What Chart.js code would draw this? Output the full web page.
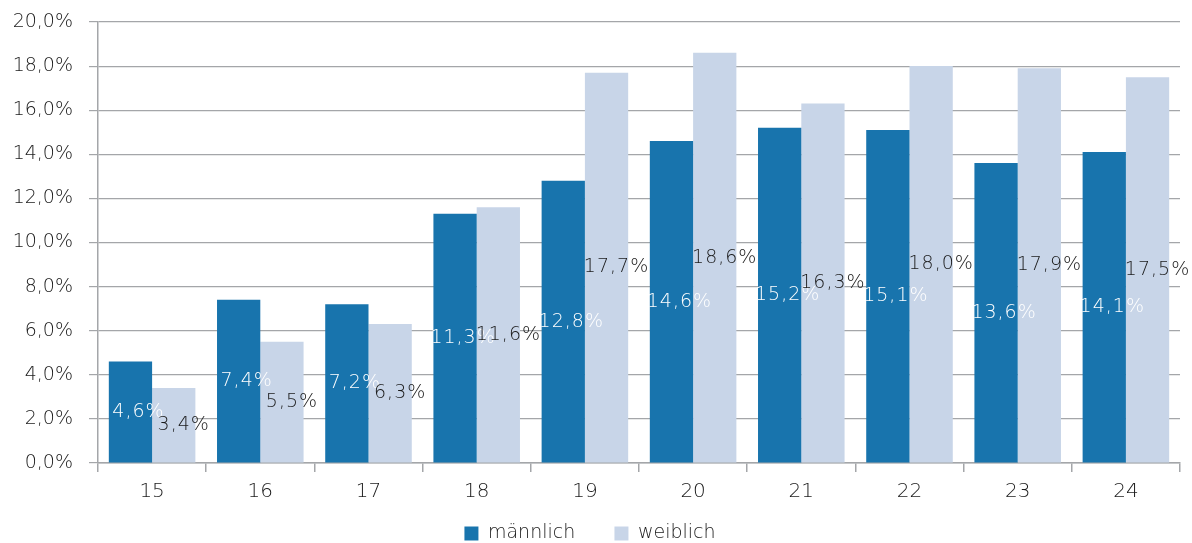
<!DOCTYPE html>
<html>
<head>
<meta charset="utf-8">
<script src="https://cdn.jsdelivr.net/npm/chart.js@4"></script>
<style>
  html, body { margin: 0; padding: 0; background: #fff; }
  #wrap { width: 1192px; height: 543px; }
</style>
</head>
<body>
<div id="wrap"><canvas id="chart" width="1192" height="543"></canvas></div>
<script>
// Ages on the x axis
const ages = ["15", "16", "17", "18", "19", "20", "21", "22", "23", "24"];
// Shares in percent
const maennlich = [4.6, 7.4, 7.2, 11.3, 12.8, 14.6, 15.2, 15.1, 13.6, 14.1];
const weiblich = [3.4, 5.5, 6.3, 11.6, 17.7, 18.6, 16.3, 18.0, 17.9, 17.5];
const seriesNames = ["männlich", "weiblich"];

const gridColor = "#a4a6a9";
const fontFamily = "'DejaVu Sans', sans-serif";

function pct(v) {
  return v.toFixed(1).replace(".", ",") + "%";
}

// Draw value labels in the middle of each bar
const barLabels = {
  id: "barLabels",
  afterDatasetsDraw(chart) {
    const ctx = chart.ctx;
    ctx.save();
    ctx.font = "200 19px " + fontFamily;
    ctx.letterSpacing = "1px";
    ctx.textAlign = "center";
    ctx.textBaseline = "middle";
    chart.data.datasets.forEach((ds, di) => {
      const meta = chart.getDatasetMeta(di);
      ctx.fillStyle = di === 0 ? "#ffffff" : "#1a1a1a";
      meta.data.forEach((bar, i) => {
        const p = bar.getProps(["x", "y", "base"], true);
        ctx.fillText(pct(ds.data[i]), p.x + (di === 0 ? 8 : 10), (p.y + p.base) / 2);
      });
    });
    ctx.restore();
  }
};

new Chart(document.getElementById("chart"), {
  type: "bar",
  data: {
    labels: ages,
    datasets: [
      { label: seriesNames[0], data: maennlich, backgroundColor: "#1874ad" },
      { label: seriesNames[1], data: weiblich, backgroundColor: "#c8d5e8" }
    ]
  },
  options: {
    responsive: false,
    animation: false,
    layout: { padding: { top: 22, right: 12, left: 0, bottom: -10 } },
    datasets: { bar: { categoryPercentage: 0.8, barPercentage: 1 } },
    scales: {
      x: {
        grid: { drawOnChartArea: false, drawTicks: true, tickLength: 9, color: gridColor, lineWidth: 1.5 },
        border: { color: gridColor, width: 1.5 },
        ticks: { color: "#1a1a1a", font: { family: fontFamily, size: 20, weight: 200 }, padding: 8 },
        afterFit: s => { s.height = 58; }
      },
      y: {
        min: 0,
        max: 20,
        ticks: {
          stepSize: 2,
          color: "#1a1a1a",
          padding: 16,
          font: { family: fontFamily, size: 19, weight: 200 },
          callback: v => pct(v)
        },
        grid: { color: gridColor, lineWidth: 1.2, tickLength: 9 },
        border: { color: gridColor, width: 1.5 },
        afterFit: s => { s.width = 98; s.paddingTop = 0; s.paddingBottom = 0; }
      }
    },
    plugins: {
      legend: {
        position: "bottom",
        labels: {
          boxWidth: 14,
          boxHeight: 14,
          padding: 3,
          color: "#1a1a1a",
          font: { family: fontFamily, size: 19, weight: 200, lineHeight: 1 },
          // extra gap between the two legend entries
          generateLabels: chart => {
            const items = Chart.defaults.plugins.legend.labels.generateLabels(chart);
            items[0].text += "\u00a0\u00a0\u00a0\u00a0\u00a0\u00a0";
            return items;
          }
        }
      },
      tooltip: { enabled: false }
    }
  },
  plugins: [barLabels]
});
</script>
</body>
</html>
